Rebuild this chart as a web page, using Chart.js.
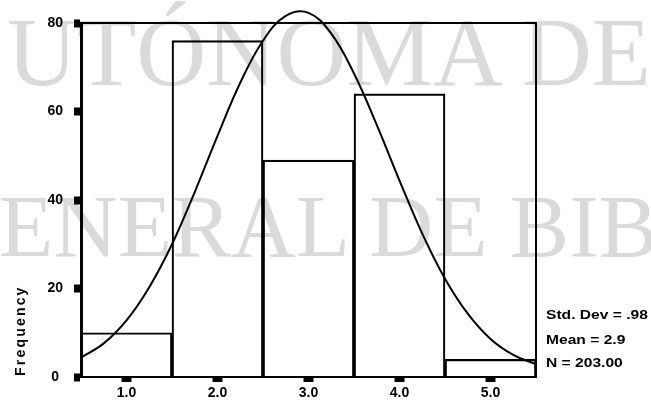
<!DOCTYPE html>
<html>
<head>
<meta charset="utf-8">
<script src="https://cdn.jsdelivr.net/npm/chart.js@4/dist/chart.umd.min.js"></script>
<style>
    html, body { margin: 0; padding: 0; background: #fff; }
    #wrap { position: relative; width: 651px; height: 400px; overflow: hidden; }
    .mark { position: absolute; font-family: 'Liberation Serif', 'Times New Roman', serif; color: #dadada; line-height: 1; white-space: nowrap; z-index: 0; }
    #chart { position: absolute; left: 0; top: 0; z-index: 1; }
    #yTitle { position: absolute; left: 12px; top: 278px; height: 98px; width: 16px; writing-mode: vertical-rl; transform: rotate(180deg);
        font: bold 14px 'Liberation Sans', Arial, sans-serif; letter-spacing: 2.2px; color: #000; z-index: 2; }
    .stat { position: absolute; left: 546px; font: bold 12px 'Liberation Sans', Arial, sans-serif; color: #000; white-space: nowrap;
        transform: scaleX(1.3); transform-origin: left center; z-index: 2; }
</style>
</head>
<body>
<div id="wrap">
    <div class="mark" style="left:7px; top:4px; font-size:97px;">UTÓNOMA DE</div>
    <div class="mark" style="left:-1px; top:182px; font-size:89px;">ENERAL DE BIB</div>
    <canvas id="chart" width="651" height="400"></canvas>
    <div id="yTitle">Frequency</div>
    <div class="stat" style="top:308px;">Std. Dev = .98</div>
    <div class="stat" style="top:333px;">Mean = 2.9</div>
    <div class="stat" style="top:356px;">N = 203.00</div>
</div>
<script>
// Histogram bins (midpoints) and counts
const binMids = [1, 2, 3, 4, 5];
const counts = [10, 76, 49, 64, 4];
const xTicks = [1, 2, 3, 4, 5];
const yTicks = [0, 20, 40, 60, 80];

// Normal curve
const curveX = [0.5, 0.75, 1.0, 1.25, 1.5, 1.75, 2.0, 2.25, 2.5, 2.75, 3.0, 3.25, 3.5, 3.75, 4.0, 4.25, 4.5, 4.75, 5.0, 5.25, 5.5];
const curveY = [4.4, 7.6, 12.8, 20.3, 30.0, 41.8, 54.5, 66.5, 76.0, 81.6, 82.3, 77.6, 68.6, 57.0, 44.4, 32.4, 22.2, 14.3, 8.6, 5.0, 2.9];

const frame = {
    id: 'frame',
    afterDraw(chart) {
        const { ctx, chartArea: a } = chart;
        ctx.save();
        ctx.strokeStyle = '#000';
        ctx.lineWidth = 2;
        ctx.beginPath();
        ctx.moveTo(a.left, a.top);
        ctx.lineTo(a.right, a.top);
        ctx.lineTo(a.right, a.bottom);
        ctx.stroke();
        ctx.restore();
    }
};

const tickFont = { family: "'Liberation Sans', Arial, sans-serif", size: 14, weight: 'bold' };

new Chart(document.getElementById('chart'), {
    type: 'bar',
    data: {
        datasets: [
            {
                type: 'line',
                data: curveX.map((x, i) => ({ x, y: curveY[i] })),
                borderColor: '#000', borderWidth: 2, pointRadius: 0,
                tension: 0.4, fill: false, clip: false
            },
            {
                type: 'bar',
                data: binMids.map((x, i) => ({ x, y: counts[i] })),
                backgroundColor: 'rgba(0,0,0,0)', borderColor: '#000', borderWidth: 1.5,
                barPercentage: 1, categoryPercentage: 1
            }
        ]
    },
    options: {
        responsive: false,
        animation: false,
        layout: { padding: { top: 23, right: 115, bottom: 0, left: 0 } },
        plugins: { legend: { display: false }, tooltip: { enabled: false } },
        scales: {
            x: {
                type: 'linear', min: 0.5, max: 5.5, offset: false,
                afterBuildTicks: s => { s.ticks = xTicks.map(v => ({ value: v })); },
                afterFit: s => { s.height = 23; },
                border: { color: '#000', width: 2 },
                grid: { offset: false, drawOnChartArea: false, tickLength: 5, tickWidth: 10, tickColor: '#000' },
                ticks: { color: '#000', font: tickFont, padding: 3, maxRotation: 0, callback: v => v.toFixed(1) }
            },
            y: {
                min: 0, max: 80,
                afterBuildTicks: s => { s.ticks = yTicks.map(v => ({ value: v })); },
                afterFit: s => { s.width = 81; },
                border: { color: '#000', width: 3 },
                grid: { drawOnChartArea: false, tickLength: 7, tickWidth: 8, tickColor: '#000' },
                ticks: { color: '#000', font: tickFont, padding: 11, crossAlign: 'center' }
            }
        }
    },
    plugins: [frame]
});
</script>
</body>
</html>
